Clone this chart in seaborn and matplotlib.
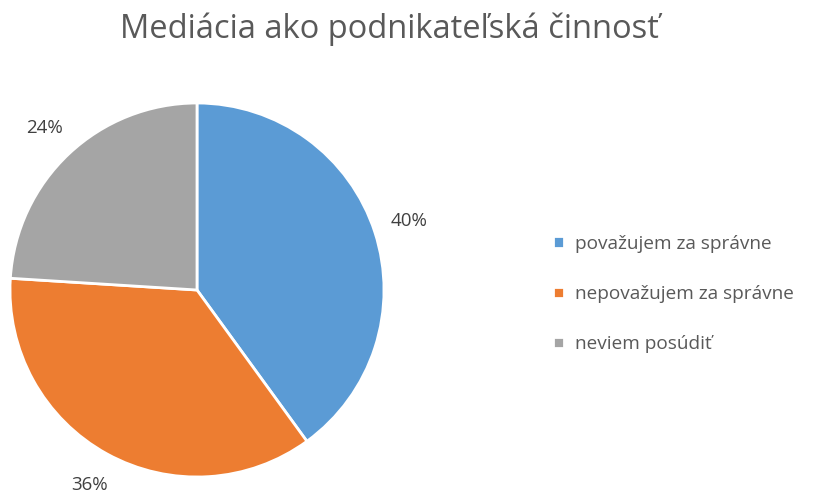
import matplotlib
matplotlib.use("Agg")
import matplotlib.pyplot as plt
import seaborn as sns

# data
labels = ["považujem za správne", "nepovažujem za správne", "neviem posúdiť"]
values = [40, 36, 24]
colors = ["#5B9BD5", "#ED7D31", "#A5A5A5"]

sns.set_theme(style="white")
plt.rcParams["font.family"] = ["Open Sans", "DejaVu Sans"]

fig = plt.figure(figsize=(8.13, 4.93), dpi=100)
W, H = 813, 493
# pie axes: center ~ (197, 290) px, radius ~187 px
cx, cy, r = 197, 290, 187
ax = fig.add_axes([(cx - r) / W, (H - cy - r) / H, 2 * r / W, 2 * r / H])

wedges, texts, autotexts = ax.pie(
    values,
    colors=colors,
    startangle=90,
    counterclock=False,
    autopct="%1.0f%%",
    pctdistance=1.19,
    wedgeprops=dict(edgecolor="white", linewidth=2),
    textprops=dict(color="#404040", fontsize=13.5),
)
ax.set_xlim(-1, 1)
ax.set_ylim(-1, 1)
ax.set_aspect("equal")

fig.suptitle("Mediácia ako podnikateľská činnosť", x=389 / W, y=1 - 12 / H,
             va="top", fontsize=23.5, color="#595959")

fig.legend(wedges, labels, loc="center left", bbox_to_anchor=(536 / W, 1 - 294 / H),
           frameon=False, fontsize=13.7, labelcolor="#595959",
           handlelength=0.55, handleheight=0.55, handletextpad=0.6, labelspacing=1.7)

fig.savefig("out.png", dpi=100)
